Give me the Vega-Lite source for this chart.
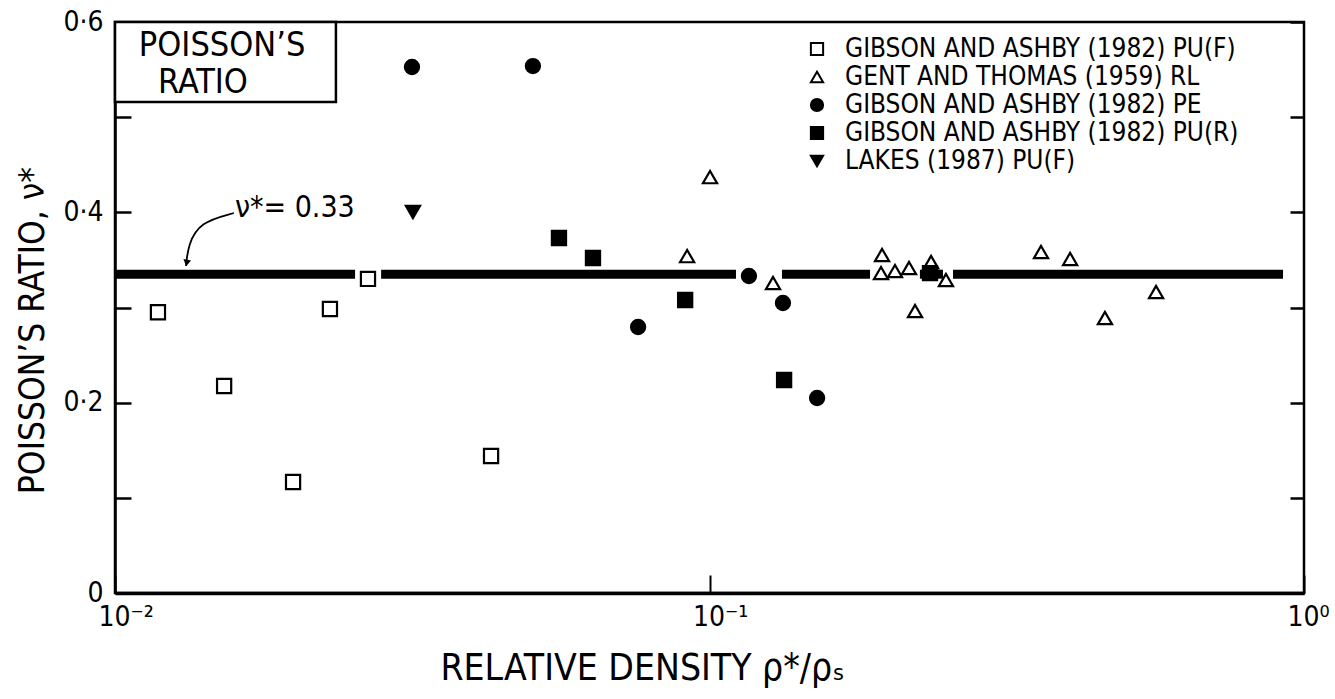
{
  "$schema": "https://vega.github.io/schema/vega-lite/v6.json",
  "width": 1189,
  "height": 571,
  "autosize": "none",
  "padding": {"left": 115, "top": 22, "right": 31, "bottom": 106},
  "background": "white",
  "config": {
    "font": "DejaVu Sans Condensed, Roboto Condensed, Liberation Sans Narrow, DejaVu Sans, sans-serif",
    "view": {"stroke": "black", "strokeWidth": 2.5},
    "axis": {
      "grid": false,
      "domainColor": "black",
      "tickColor": "black",
      "labelColor": "black",
      "titleColor": "black",
      "titleFontWeight": "normal",
      "labelFont": "DejaVu Sans Condensed, Roboto Condensed, Liberation Sans Narrow, DejaVu Sans, sans-serif",
      "titleFont": "DejaVu Sans Condensed, Roboto Condensed, Liberation Sans Narrow, DejaVu Sans, sans-serif"
    },
    "legend": {
      "labelFont": "DejaVu Sans Condensed, Roboto Condensed, Liberation Sans Narrow, DejaVu Sans, sans-serif",
      "labelColor": "black",
      "symbolStrokeWidth": 2
    }
  },
  "encoding": {
    "x": {
      "field": "rd",
      "type": "quantitative",
      "scale": {"type": "log", "domain": [0.01, 1], "nice": false},
      "axis": {
        "values": [0.01, 0.1, 1],
        "tickSize": -18,
        "tickWidth": 2,
        "domainWidth": 3.5,
        "labelFontSize": 28,
        "labelPadding": 28,
        "labelAlign": "left",
        "labelOffset": -17,
        "labelFlush": false,
        "labelExpr": "'10' + (round(log(datum.value)/LN10) == -2 ? '⁻²' : round(log(datum.value)/LN10) == -1 ? '⁻¹' : '⁰')",
        "title": "RELATIVE DENSITY  ρ*/ρₛ",
        "titleFontSize": 37,
        "titleX": 527,
        "titleY": 86,
        "titleAlign": "center",
        "titleBaseline": "alphabetic"
      }
    },
    "y": {
      "field": "nu",
      "type": "quantitative",
      "scale": {"domain": [0, 0.6], "nice": false, "zero": true},
      "axis": null
    }
  },
  "layer": [
    {
      "data": {"values": [
        {"rd": 0.01, "rd2": 0.02534, "nu": 0.335},
        {"rd": 0.02803, "rd2": 0.1108, "nu": 0.335},
        {"rd": 0.1324, "rd2": 0.1862, "nu": 0.335},
        {"rd": 0.2259, "rd2": 0.2470, "nu": 0.335},
        {"rd": 0.2568, "rd2": 0.922, "nu": 0.335}
      ]},
      "mark": {"type": "rule", "stroke": "black", "strokeWidth": 9, "strokeCap": "butt"},
      "encoding": {
        "x2": {"field": "rd2"},
        "y": {
          "field": "nu",
          "type": "quantitative",
          "scale": {"domain": [0, 0.6], "nice": false, "zero": true},
          "axis": {
            "orient": "right",
            "values": [0, 0.1, 0.2, 0.3, 0.4, 0.5, 0.6],
            "tickSize": -14,
            "tickWidth": 2.5,
            "labels": false,
            "domain": false,
            "title": null
          }
        }
      }
    },
    {
      "data": {"values": [
        {"series": "GIBSON AND ASHBY (1982) PU(F)", "rd": 0.01181, "nu": 0.295},
        {"series": "GIBSON AND ASHBY (1982) PU(F)", "rd": 0.01526, "nu": 0.2175},
        {"series": "GIBSON AND ASHBY (1982) PU(F)", "rd": 0.01993, "nu": 0.1166},
        {"series": "GIBSON AND ASHBY (1982) PU(F)", "rd": 0.02299, "nu": 0.2984},
        {"series": "GIBSON AND ASHBY (1982) PU(F)", "rd": 0.02664, "nu": 0.330},
        {"series": "GIBSON AND ASHBY (1982) PU(F)", "rd": 0.04291, "nu": 0.144},
        {"series": "GENT AND THOMAS (1959) RL", "rd": 0.1002, "nu": 0.437},
        {"series": "GENT AND THOMAS (1959) RL", "rd": 0.0917, "nu": 0.354},
        {"series": "GENT AND THOMAS (1959) RL", "rd": 0.1279, "nu": 0.3257},
        {"series": "GENT AND THOMAS (1959) RL", "rd": 0.1951, "nu": 0.3552},
        {"series": "GENT AND THOMAS (1959) RL", "rd": 0.1943, "nu": 0.3362},
        {"series": "GENT AND THOMAS (1959) RL", "rd": 0.2051, "nu": 0.3383},
        {"series": "GENT AND THOMAS (1959) RL", "rd": 0.2166, "nu": 0.3415},
        {"series": "GENT AND THOMAS (1959) RL", "rd": 0.2359, "nu": 0.3478},
        {"series": "GENT AND THOMAS (1959) RL", "rd": 0.2499, "nu": 0.3289},
        {"series": "GENT AND THOMAS (1959) RL", "rd": 0.2217, "nu": 0.2963},
        {"series": "GENT AND THOMAS (1959) RL", "rd": 0.3611, "nu": 0.3583},
        {"series": "GENT AND THOMAS (1959) RL", "rd": 0.4042, "nu": 0.351},
        {"series": "GENT AND THOMAS (1959) RL", "rd": 0.4626, "nu": 0.289},
        {"series": "GENT AND THOMAS (1959) RL", "rd": 0.5639, "nu": 0.3163},
        {"series": "GIBSON AND ASHBY (1982) PE", "rd": 0.03159, "nu": 0.5527},
        {"series": "GIBSON AND ASHBY (1982) PE", "rd": 0.05046, "nu": 0.5537},
        {"series": "GIBSON AND ASHBY (1982) PE", "rd": 0.07584, "nu": 0.2795},
        {"series": "GIBSON AND ASHBY (1982) PE", "rd": 0.1165, "nu": 0.3331},
        {"series": "GIBSON AND ASHBY (1982) PE", "rd": 0.1329, "nu": 0.3047},
        {"series": "GIBSON AND ASHBY (1982) PE", "rd": 0.1517, "nu": 0.2049},
        {"series": "GIBSON AND ASHBY (1982) PU(R)", "rd": 0.05582, "nu": 0.373},
        {"series": "GIBSON AND ASHBY (1982) PU(R)", "rd": 0.06368, "nu": 0.352},
        {"series": "GIBSON AND ASHBY (1982) PU(R)", "rd": 0.0910, "nu": 0.3079},
        {"series": "GIBSON AND ASHBY (1982) PU(R)", "rd": 0.1335, "nu": 0.2238},
        {"series": "GIBSON AND ASHBY (1982) PU(R)", "rd": 0.2349, "nu": 0.3362},
        {"series": "LAKES (1987) PU(F)", "rd": 0.03171, "nu": 0.4003}
      ]},
      "mark": {"type": "point", "filled": false, "strokeWidth": 2.2, "size": 200, "opacity": 1, "fillOpacity": 1, "strokeOpacity": 1},
      "encoding": {
        "y": {
          "field": "nu",
          "type": "quantitative",
          "scale": {"domain": [0, 0.6], "nice": false, "zero": true},
          "axis": {
            "orient": "left",
            "values": [0, 0.1, 0.2, 0.3, 0.4, 0.5, 0.6],
            "tickSize": -16,
            "tickWidth": 2.5,
            "domainWidth": 2.5,
            "labelFontSize": 28,
            "labelPadding": 28,
            "labelBaseline": "middle",
            "labelFlush": false,
            "labelOverlap": false,
            "labelExpr": "datum.value === 0 ? '0' : (datum.value === 0.2 || datum.value === 0.4 || datum.value === 0.6) ? replace(format(datum.value, '.1f'), '.', '·') : ''",
            "title": "POISSON’S RATIO, ν*",
            "titleFontSize": 35,
            "titleAngle": -90,
            "titleX": -83,
            "titleY": 308,
            "titleAlign": "center",
            "titleBaseline": "middle"
          }
        },
        "shape": {
          "field": "series",
          "type": "nominal",
          "scale": {
            "domain": ["GIBSON AND ASHBY (1982) PU(F)", "GENT AND THOMAS (1959) RL", "GIBSON AND ASHBY (1982) PE", "GIBSON AND ASHBY (1982) PU(R)", "LAKES (1987) PU(F)"],
            "range": ["square", "triangle-up", "circle", "square", "triangle-down"]
          },
          "legend": {
            "title": null,
            "orient": "none",
            "legendX": 689,
            "legendY": 14,
            "padding": 0,
            "labelFontSize": 26,
            "labelLimit": 600,
            "labelOffset": 15,
            "rowPadding": 2,
            "symbolSize": 150,
            "symbolStrokeWidth": 2
          }
        },
        "fill": {
          "field": "series",
          "type": "nominal",
          "scale": {
            "domain": ["GIBSON AND ASHBY (1982) PU(F)", "GENT AND THOMAS (1959) RL", "GIBSON AND ASHBY (1982) PE", "GIBSON AND ASHBY (1982) PU(R)", "LAKES (1987) PU(F)"],
            "range": ["white", "white", "black", "black", "black"]
          },
          "legend": {
            "title": null,
            "orient": "none",
            "legendX": 689,
            "legendY": 14,
            "padding": 0,
            "labelFontSize": 26,
            "labelLimit": 600,
            "labelOffset": 15,
            "rowPadding": 2,
            "symbolSize": 150,
            "symbolStrokeWidth": 2
          }
        },
        "stroke": {
          "field": "series",
          "type": "nominal",
          "scale": {
            "domain": ["GIBSON AND ASHBY (1982) PU(F)", "GENT AND THOMAS (1959) RL", "GIBSON AND ASHBY (1982) PE", "GIBSON AND ASHBY (1982) PU(R)", "LAKES (1987) PU(F)"],
            "range": ["black", "black", "black", "black", "black"]
          },
          "legend": {
            "title": null,
            "orient": "none",
            "legendX": 689,
            "legendY": 14,
            "padding": 0,
            "labelFontSize": 26,
            "labelLimit": 600,
            "labelOffset": 15,
            "rowPadding": 2,
            "symbolSize": 150,
            "symbolStrokeWidth": 2
          }
        }
      }
    },
    {
      "data": {"values": [
        {"rd": 0.01, "rd2": 0.02353, "nu": 0.6, "nu2": 0.516}
      ]},
      "mark": {"type": "rect", "fill": "white", "stroke": "black", "strokeWidth": 2.5},
      "encoding": {
        "x2": {"field": "rd2"},
        "y2": {"field": "nu2"}
      }
    },
    {
      "data": {"values": [
        {"t": "POISSON’S", "rd": 0.01514, "nu": 0.5745},
        {"t": "RATIO", "rd": 0.01406, "nu": 0.536}
      ]},
      "mark": {"type": "text", "fontSize": 34, "align": "center", "baseline": "middle", "color": "black"},
      "encoding": {"text": {"field": "t"}}
    },
    {
      "data": {"values": [
        {"t": "ν*= 0.33", "rd": 0.01591, "nu": 0.4045}
      ]},
      "mark": {"type": "text", "fontSize": 30, "align": "left", "baseline": "middle", "color": "black"},
      "encoding": {"text": {"field": "t"}}
    },
    {
      "data": {"values": [
        {"i": 0, "rd": 0.01585, "nu": 0.3993},
        {"i": 1, "rd": 0.01390, "nu": 0.3898},
        {"i": 2, "rd": 0.01327, "nu": 0.3657},
        {"i": 3, "rd": 0.01317, "nu": 0.3436}
      ]},
      "mark": {"type": "line", "interpolate": "basis", "stroke": "black", "strokeWidth": 1.8},
      "encoding": {"order": {"field": "i", "type": "quantitative"}}
    },
    {
      "data": {"values": [
        {"rd": 0.0132, "nu": 0.3467}
      ]},
      "mark": {"type": "point", "shape": "triangle-down", "filled": true, "color": "black", "size": 60, "angle": 10, "opacity": 1}
    }
  ],
  "resolve": {"axis": {"y": "independent"}}
}
